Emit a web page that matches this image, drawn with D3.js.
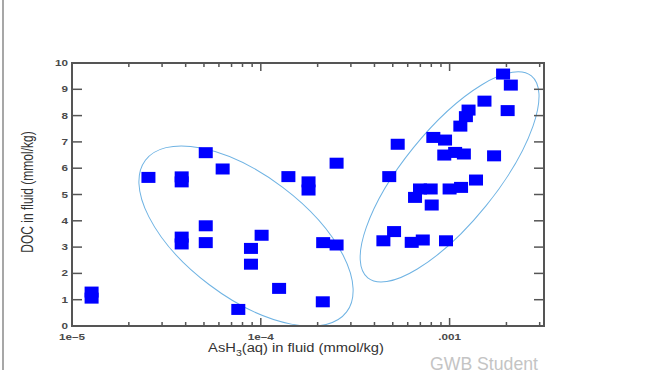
<!DOCTYPE html>
<html>
<head>
<meta charset="utf-8">
<script src="https://cdn.jsdelivr.net/npm/d3@7"></script>
<style>
  body { margin: 0; background: #fff; }
  svg { display: block; font-family: "Liberation Sans", Arial, sans-serif; }
</style>
</head>
<body>
<div id="chart"></div>
<script>
// AsH3(aq) (mmol/kg) and DOC (mmol/kg) for each sample
const ash3 = [
  1.27e-5, 1.27e-5, 2.54e-5, 3.81e-5, 3.81e-5, 5.11e-5, 6.28e-5, 5.11e-5, 3.81e-5, 3.81e-5,
  5.11e-5, 1.01e-4, 8.87e-5, 8.87e-5, 7.6e-5, 1.25e-4, 1.40e-4, 1.79e-4, 1.79e-4, 2.14e-4,
  2.52e-4, 2.13e-4, 2.52e-4,
  1.92e-3, 2.11e-3, 1.53e-3, 2.03e-3, 1.26e-3, 1.22e-3, 1.14e-3, 8.2e-4, 9.46e-4, 5.31e-4,
  9.37e-4, 1.07e-3, 1.19e-3, 1.72e-3, 4.79e-4, 1.38e-3, 6.97e-4, 7.94e-4, 6.56e-4, 8.04e-4,
  1.0e-3, 1.15e-3, 5.08e-4, 4.46e-4, 6.3e-4, 7.21e-4, 9.57e-4
];
const doc = [
  1.29, 1.06, 5.65, 5.67, 5.48, 6.59, 5.97, 3.81, 3.38, 3.12,
  3.17, 3.45, 2.95, 2.35, 0.63, 1.43, 5.68, 5.48, 5.17, 3.17,
  3.08, 0.92, 6.19,
  9.58, 9.16, 8.55, 8.19, 8.21, 7.96, 7.60, 7.17, 7.07, 6.91,
  6.50, 6.60, 6.54, 6.47, 5.68, 5.55, 5.21, 5.21, 4.89, 4.60,
  5.21, 5.27, 3.59, 3.24, 3.18, 3.27, 3.24
];

// group outlines (centre in data units)
const groupX = [8.35e-5, 1.0e-3];
const groupY = [3.42, 5.67];

const yTicks = [0, 1, 2, 3, 4, 5, 6, 7, 8, 9, 10];
const xMajor = [1e-5, 1e-4, 1e-3];
const xLabels = ["1e\u20135", "1e\u20134", ".001"];

const width = 647, height = 379;
const sx = 1.3; // the picture is stretched sideways

const svg = d3.select("#chart").append("svg")
  .attr("width", width)
  .attr("height", height);

const x = d3.scaleLog().domain([1e-5, Math.pow(10, -2.5)]).range([72, 544]);
const y = d3.scaleLinear().domain([0, 10]).range([326, 63]);

// left page border
svg.append("line")
  .attr("x1", 3).attr("x2", 3).attr("y1", 0).attr("y2", 370)
  .attr("stroke", "#8a8a8a").attr("stroke-width", 1.5);

// ellipses
const shapes = [{ a: 126, b: 61, r: 37 }, { a: 130, b: 46.5, r: -51 }];
svg.selectAll("ellipse.group")
  .data(groupX.map((g, i) => ({ cx: g, cy: groupY[i], ...shapes[i] })))
  .enter().append("ellipse")
  .attr("class", "group")
  .attr("transform", d => `translate(${x(d.cx)},${y(d.cy)}) rotate(${d.r})`)
  .attr("rx", d => d.a).attr("ry", d => d.b)
  .attr("fill", "none")
  .attr("stroke", "#6fb3e3")
  .attr("stroke-width", 1);

// points
svg.selectAll("rect.pt")
  .data(ash3.map((v, i) => [v, doc[i]]))
  .enter().append("rect")
  .attr("class", "pt")
  .attr("x", d => x(d[0]) - 7)
  .attr("y", d => y(d[1]) - 5.5)
  .attr("width", 14).attr("height", 11)
  .attr("fill", "#0000ff");

// frame
const axisCol = "#555";
svg.append("rect")
  .attr("x", x.range()[0]).attr("y", y.range()[1])
  .attr("width", x.range()[1] - x.range()[0])
  .attr("height", y.range()[0] - y.range()[1])
  .attr("fill", "none").attr("stroke", axisCol).attr("stroke-width", 2);

// x ticks, bottom and top, pointing inwards
const xt = x.ticks().filter(t => t > x.domain()[0] * 1.0001 && t < x.domain()[1]);
const isMajor = t => xMajor.some(m => Math.abs(m - t) / m < 1e-6);
[[y(0), -1], [y(10), 1]].forEach(([yy, dir]) => {
  svg.selectAll(null).data(xt).enter().append("line")
    .attr("x1", d => x(d)).attr("x2", d => x(d))
    .attr("y1", yy).attr("y2", d => yy + dir * (isMajor(d) ? 8 : 4))
    .attr("stroke", axisCol).attr("stroke-width", 1.5);
});

// y ticks, left and right
[[x.range()[0], 1], [x.range()[1], -1]].forEach(([xx, dir]) => {
  svg.selectAll(null).data(yTicks.slice(1, -1)).enter().append("line")
    .attr("x1", xx).attr("x2", xx + dir * 10)
    .attr("y1", d => y(d)).attr("y2", d => y(d))
    .attr("stroke", axisCol).attr("stroke-width", 1.5);
});

// tick labels
svg.selectAll(null).data(yTicks).enter().append("text")
  .attr("transform", d => `translate(68,${y(d) + 3}) scale(${sx},1)`)
  .attr("text-anchor", "end")
  .attr("font-size", 9).attr("font-weight", "bold")
  .attr("fill", "#4a4a4a")
  .text(d => d);

svg.selectAll(null).data(xMajor).enter().append("text")
  .attr("transform", d => `translate(${x(d)},340) scale(${sx},1)`)
  .attr("text-anchor", "middle")
  .attr("font-size", 9).attr("font-weight", "bold")
  .attr("fill", "#4a4a4a")
  .text((d, i) => xLabels[i]);

// axis titles
svg.append("text")
  .attr("transform", `translate(33,192) scale(${sx},1) rotate(-90)`)
  .attr("text-anchor", "middle")
  .attr("font-size", 12)
  .attr("fill", "#333")
  .text("DOC in fluid (mmol/kg)");

const xl = svg.append("text")
  .attr("text-anchor", "middle")
  .attr("font-size", 12.5)
  .attr("fill", "#333");
xl.append("tspan").text("AsH");
xl.append("tspan").attr("font-size", 9).attr("dy", 4).text("3");
xl.append("tspan").attr("dy", -4).text("(aq) in fluid (mmol/kg)");
const xlLen = xl.node().getComputedTextLength();
xl.attr("transform", `translate(296,352) scale(${176 / xlLen},1)`);

// watermark
const wm = svg.append("text")
  .attr("font-size", 17.5)
  .attr("fill", "#c4c4c4")
  .text("GWB Student");
const wmLen = wm.node().getComputedTextLength();
wm.attr("transform", `translate(430,370) scale(${108 / wmLen},1)`);
</script>
</body>
</html>
